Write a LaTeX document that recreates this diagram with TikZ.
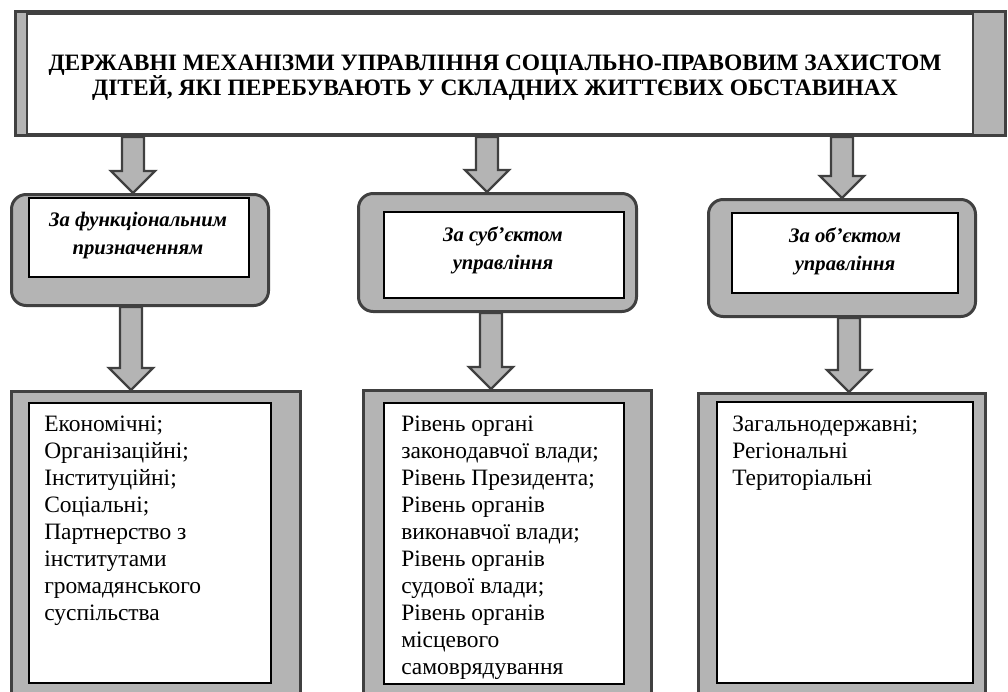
\documentclass[tikz,border=0pt]{standalone}
\usepackage{fontspec}
\setmainfont{Liberation Serif}
\usetikzlibrary{fit,calc}

\definecolor{framegray}{RGB}{64,64,64}
\definecolor{shadegray}{RGB}{180,180,180}

\tikzset{
  frameouter/.style={draw=framegray, line width=2.25pt, fill=shadegray, inner sep=0pt},
  frameround/.style={frameouter, rounded corners=11pt},
  frameinner/.style={draw=black, line width=0.9pt, fill=white, inner sep=0pt},
  blockarrow/.style={draw=framegray, line width=1.8pt, fill=shadegray, line join=miter},
  titletext/.style={font=\bfseries\fontsize{17.6}{19}\selectfont, align=center, inner sep=0pt},
  kindtext/.style={font=\bfseries\itshape\fontsize{15.5}{21}\selectfont, align=center, inner sep=0pt},
  listtext/.style={font=\fontsize{17.6}{20.25}\selectfont, align=left, anchor=north west, inner sep=0pt},
}

% block arrow pointing down: #1 start, #2 tip
\newcommand{\downarr}[2]{%
  \draw[blockarrow] ($(#1)+(-11,0)$) -- ($(#1)+(11,0)$) -- ($(#2)+(11,-22)$) -- ($(#2)+(22,-22)$)
    -- (#2) -- ($(#2)+(-22,-22)$) -- ($(#2)+(-11,-22)$) -- cycle;}

\begin{document}
\begin{tikzpicture}[x=0.75pt,y=0.75pt,yscale=-1,xscale=1]
\useasboundingbox (0,0) rectangle (1008,692);
\clip (0,0) rectangle (1008,692);

%Shape: Rectangle [top]
\node[frameouter, fit={(15.5,11.5) (1005.5,135.5)}] (top) {};
\node[frameinner, draw=framegray, fit={(27,14) (973,134)}] (topin) {};
% Text Node
\node[titletext] (title) at (495,77.5) {ДЕРЖАВНІ МЕХАНІЗМИ УПРАВЛІННЯ СОЦІАЛЬНО-ПРАВОВИМ ЗАХИСТОМ\\ДІТЕЙ, ЯКІ ПЕРЕБУВАЮТЬ У СКЛАДНИХ ЖИТТЄВИХ ОБСТАВИНАХ};

%Shape: Rounded Rect [second row]
\node[frameround, fit={(11.5,194.5) (268.5,305.5)}] (func) {};
\node[frameinner, fit={(29,198) (249,277)}] (funcin) {};
\node[frameround, fit={(358.5,193.5) (636.5,311.5)}] (subj) {};
\node[frameinner, fit={(384,212) (624,298)}] (subjin) {};
\node[frameround, fit={(708.5,199.5) (975.5,316.5)}] (obj) {};
\node[frameinner, fit={(732,213) (958,293)}] (objin) {};
% Text Node
\node[kindtext] (functxt) at (138,235.5) {За функціональним\\призначенням};
% Text Node
\node[kindtext] (subjtxt) at (503,250) {За суб’єктом\\управління};
% Text Node
\node[kindtext] (objtxt) at (845,251.5) {За об’єктом\\управління};

%Shape: Rectangle [third row]
\node[frameouter, fit={(11.5,391.5) (300.5,720)}] (funclist) {};
\node[frameinner, fit={(29,403) (271,683)}] (funclistin) {};
\node[frameouter, fit={(363.5,390.5) (651.5,720)}] (subjlist) {};
\node[frameinner, fit={(384,403) (624,684)}] (subjlistin) {};
\node[frameouter, fit={(698.5,393.5) (985.5,720)}] (objlist) {};
\node[frameinner, fit={(717,402) (973,683)}] (objlistin) {};
% Text Node
\node[listtext] (functerms) at (44,416) {Економічні;\\Організаційні;\\Інституційні;\\Соціальні;\\Партнерство з\\інститутами\\громадянського\\суспільства};
% Text Node
\node[listtext] (subjterms) at (401,416) {Рівень органі\\законодавчої влади;\\Рівень Президента;\\Рівень органів\\виконавчої влади;\\Рівень органів\\судової влади;\\Рівень органів\\місцевого\\самоврядування};
% Text Node
\node[listtext] (objterms) at (732,416) {Загальнодержавні;\\Регіональні\\Територіальні};

%Block Arrows
\coordinate (a1) at (133,0);
\coordinate (a2) at (487,0);
\coordinate (a3) at (842,0);
\coordinate (b1) at (131,0);
\coordinate (b2) at (491,0);
\coordinate (b3) at (849,0);
\downarr{top.south -| a1}{func.north -| a1}
\downarr{top.south -| a2}{subj.north -| a2}
\downarr{top.south -| a3}{obj.north -| a3}
\downarr{func.south -| b1}{funclist.north -| b1}
\downarr{subj.south -| b2}{subjlist.north -| b2}
\downarr{obj.south -| b3}{objlist.north -| b3}

\end{tikzpicture}
\end{document}
